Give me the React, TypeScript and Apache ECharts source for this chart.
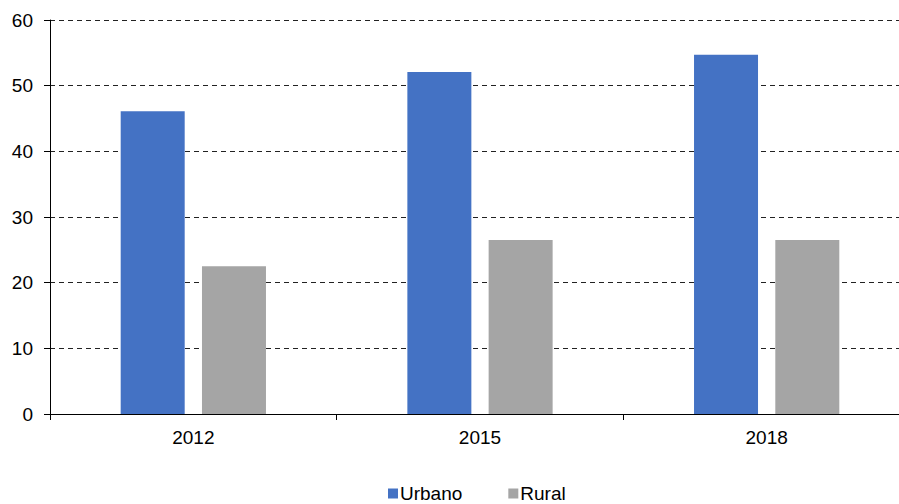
import React, { useEffect, useRef } from "react";
import * as echarts from "echarts";

const years = ["2012", "2015", "2018"];
const urbano = [46.1, 52.1, 54.7];
const rural = [22.5, 26.5, 26.5];
const yTicks = [0, 10, 20, 30, 40, 50, 60];

export default function App() {
  const ref = useRef<HTMLDivElement>(null);

  useEffect(() => {
    if (!ref.current) return;
    const chart = echarts.init(ref.current, undefined, { renderer: "svg" });
    const font = "Liberation Sans, Arial, sans-serif";
    chart.setOption({
      animation: false,
      backgroundColor: "#ffffff",
      grid: { left: 50, top: 20, width: 860, height: 394, containLabel: false },
      legend: {
        top: 479,
        left: 383,
        itemWidth: 10,
        itemHeight: 10,
        itemGap: 46,
        icon: "rect",
        textStyle: { fontFamily: font, fontSize: 19, color: "#000", padding: [0, 0, 0, -3] },
        data: ["Urbano", "Rural"],
      },
      xAxis: {
        type: "category",
        data: years,
        axisLine: { lineStyle: { color: "#000", width: 1 } },
        axisTick: { show: true, length: 6, lineStyle: { color: "#000" }, alignWithLabel: false },
        axisLabel: { fontFamily: font, fontSize: 19, color: "#000", margin: 14 },
      },
      yAxis: {
        type: "value",
        min: yTicks[0],
        max: yTicks[yTicks.length - 1],
        interval: 10,
        axisLine: { show: true, lineStyle: { color: "#000", width: 1 } },
        axisTick: { show: true, length: 6, lineStyle: { color: "#000" } },
        axisLabel: { fontFamily: font, fontSize: 19, color: "#000", margin: 17 },
        splitLine: { show: true, lineStyle: { color: "#222", type: [5, 4], width: 1 } },
      },
      series: [
        {
          name: "Urbano",
          type: "bar",
          data: urbano,
          barWidth: 64,
          barGap: "27%",
          itemStyle: { color: "#4472C4" },
        },
        {
          name: "Rural",
          type: "bar",
          data: rural,
          barWidth: 64,
          barGap: "27%",
          itemStyle: { color: "#A5A5A5" },
        },
      ],
    });
    return () => chart.dispose();
  }, []);

  return (
    <div
      style={{
        position: "fixed",
        left: 0,
        top: 0,
        width: 899,
        height: 504,
        overflow: "hidden",
        background: "#fff",
      }}
    >
      <div ref={ref} style={{ width: 920, height: 504 }} />
    </div>
  );
}
